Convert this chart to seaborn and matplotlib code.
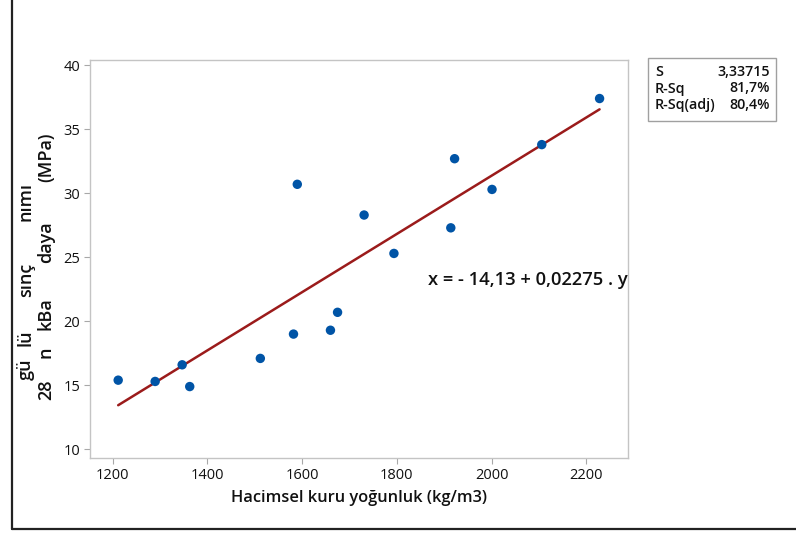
import numpy as np
import pandas as pd
import matplotlib
matplotlib.use("Agg")
import matplotlib.pyplot as plt
import seaborn as sns
from matplotlib.patches import Rectangle
from matplotlib.lines import Line2D

# ---- data ----
density = [1212, 1290, 1347, 1363, 1512, 1582, 1590, 1660, 1675, 1731, 1794, 1914, 1922, 2001, 2106, 2228]
strength = [15.4, 15.3, 16.6, 14.9, 17.1, 19.0, 30.7, 19.3, 20.7, 28.3, 25.3, 27.3, 32.7, 30.3, 33.8, 37.4]
intercept = -14.13
slope = 0.02275
x_ticks = [1200, 1400, 1600, 1800, 2000, 2200]
y_ticks = [10, 15, 20, 25, 30, 35, 40]
stat_names = ["S", "R-Sq", "R-Sq(adj)"]
stat_values = ["3,33715", "81,7%", "80,4%"]
equation = "x = - 14,13 + 0,02275 . y"
x_label = "Hacimsel kuru yoğunluk (kg/m3)"
y_label_pieces = ["28", "gü", "n", "lü", "kBa", "sınç", "daya", "nımı", "(MPa)"]
y_label_raised = [False, True, False, True, False, True, False, True, False]

sns.set_style("white")
plt.rcParams["font.family"] = ["Open Sans", "DejaVu Sans"]

W, H = 796, 533
fig = plt.figure(figsize=(W / 100, H / 100), dpi=100)
ax = fig.add_axes([90 / W, 1 - 458 / H, 538 / W, 398 / H])

df = pd.DataFrame({"density": density, "strength": strength})
line_x = np.array([min(density), max(density)], dtype=float)
line_df = pd.DataFrame({"density": line_x, "strength": intercept + slope * line_x})

sns.lineplot(data=line_df, x="density", y="strength", color="#9B1B1B", lw=1.8, ax=ax, zorder=2)
sns.scatterplot(data=df, x="density", y="strength", color="#0054A6", s=46, edgecolor="none", ax=ax, zorder=3)

ax.set_xlim(1152.5, 2288)
ax.set_ylim(9.32, 40.41)
ax.set_xticks(x_ticks)
ax.set_yticks(y_ticks)
ax.set_xticklabels([str(v) for v in x_ticks])
ax.set_yticklabels([str(v) for v in y_ticks])
ax.tick_params(axis="both", which="major", length=4, width=0.8, color="#A8A8A8",
               labelsize=10.5, labelcolor="#111111", pad=3, direction="out")
ax.tick_params(bottom=True, left=True)
for sp in ax.spines.values():
    sp.set_color("#C4C4C4")
    sp.set_linewidth(1.0)
ax.set_xlabel(x_label, fontsize=11.8, fontweight="semibold", color="#111111", labelpad=5)
ax.set_ylabel("")

ax.text(0.628, 0.447, equation, transform=ax.transAxes, fontsize=13.2,
        fontweight="semibold", color="#111111", ha="left", va="center")

# stats box
fig.add_artist(Rectangle((648 / W, 1 - 121 / H), 128 / W, 63 / H, transform=fig.transFigure,
                         fill=False, edgecolor="#A0A0A0", lw=1.0))
for i, (n, v) in enumerate(zip(stat_names, stat_values)):
    yy = 1 - (72 + i * 16.5) / H
    fig.text(655 / W, yy, n, fontsize=10.3, fontweight="semibold", color="#111111", va="center", ha="left")
    fig.text(770 / W, yy, v, fontsize=10.3, fontweight="semibold", color="#111111", va="center", ha="right")

# figure border lines (left and bottom)
fig.add_artist(Line2D([12 / W, 12 / W], [4 / H, 1], transform=fig.transFigure, color="#222222", lw=1.6))
fig.add_artist(Line2D([12 / W, 1], [4 / H, 4 / H], transform=fig.transFigure, color="#222222", lw=1.6))

# garbled y label: pieces alternating baseline / raised
fig.canvas.draw()
renderer = fig.canvas.get_renderer()
ypos = 133.0
for s, raised in zip(y_label_pieces, y_label_raised):
    xb = 31 if raised else 51
    t = fig.text(xb / W, ypos / H, s, rotation=90, rotation_mode="anchor", ha="left", va="baseline",
                 fontsize=13, fontweight="semibold", color="#111111")
    bb = t.get_window_extent(renderer)
    ypos += bb.height

fig.savefig("out.png", dpi=100)
